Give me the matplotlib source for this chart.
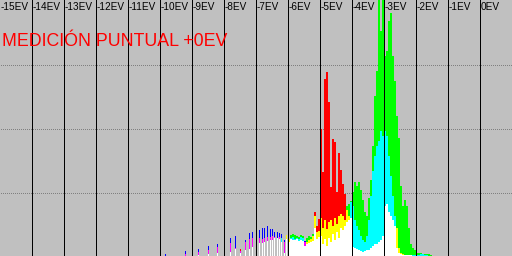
import matplotlib
matplotlib.use("Agg")
import matplotlib.pyplot as plt
import numpy as np

# ---- data (heights in histogram counts, 0..256 = full scale) ----
ev_labels = ["-15EV", "-14EV", "-13EV", "-12EV", "-11EV", "-10EV", "-9EV", "-8EV",
             "-7EV", "-6EV", "-5EV", "-4EV", "-3EV", "-2EV", "-1EV", "0EV"]
ev_stops = np.arange(-15, 1)

# sparse single spikes in the shadows (EV position, R, G, B)
spike_ev = [-9.844, -9.219, -8.813, -8.5, -8.219, -7.813, -7.656, -7.5, -7.344,
            -7.219, -7.125, -6.906, -6.813, -6.75, -6.656, -6.563, -6.5, -6.438,
            -6.344, -6.281, -6.219, -6.125, -6.063]
spike_r = [0, 2, 4, 6, 9, 13, 8, 7, 14, 17, 18, 18, 17, 18, 19, 19, 20, 19, 18, 19, 14, 14, 21]
spike_g = [0, 0, 1, 2, 3, 4, 7, 3, 6, 7, 9, 13, 13, 14, 15, 16, 16, 18, 18, 17, 18, 3, 21]
spike_b = [2, 5, 7, 10, 12, 18, 20, 5, 16, 23, 24, 26, 28, 28, 30, 27, 27, 24, 24, 23, 22, 16, 17]

# dense part, 1/16 EV bins starting at -6EV
dense_start = -6.0
dense_r = [17, 17, 16, 16, 17, 15, 16, 15, 14, 14, 16, 17, 20, 44, 30, 37,
           127, 84, 177, 184, 154, 69, 117, 114, 64, 103, 86, 72, 62, 46, 40, 38,
           9, 8, 7, 6, 5, 4, 5, 6, 6, 8, 10, 12, 12, 14, 16, 20,
           50, 52, 44, 40, 36, 30, 28, 8, 3, 2, 1, 1, 1, 1, 0, 0,
           0, 0, 0, 0, 0, 0, 0, 0]
dense_g = [17, 21, 22, 21, 20, 19, 21, 20, 10, 18, 20, 19, 22, 40, 24, 25,
           38, 28, 36, 27, 34, 36, 30, 38, 32, 40, 42, 40, 36, 50, 52, 55,
           64, 74, 70, 74, 66, 56, 44, 40, 58, 76, 110, 160, 185, 256, 225, 256,
           200, 205, 235, 243, 200, 175, 140, 118, 70, 50, 56, 50, 28, 12, 8, 6,
           3, 3, 3, 2, 2, 2, 2, 1]
dense_b = [14, 18, 19, 17, 18, 17, 19, 18, 15, 12, 13, 14, 15, 28, 17, 19,
           20, 12, 17, 10, 18, 14, 22, 16, 24, 18, 28, 26, 30, 34, 36, 54,
           50, 36, 30, 26, 20, 16, 14, 20, 36, 60, 85, 100, 110, 115, 125, 120,
           125, 120, 100, 80, 60, 40, 8, 3, 2, 1, 1, 1, 1, 1, 1, 1,
           1, 1, 2, 2, 1, 1, 0, 0]

title = "MEDICIÓN PUNTUAL +0EV"

# additive colour mixing of the three channels
single = {0: "#ff0000", 1: "#00ff00", 2: "#0000ff"}
pair = {(0, 1): "#ffff00", (1, 2): "#00ffff", (0, 2): "#ff00ff"}


def split_bins(xs, rs, gs, bs):
    segs = {}
    for x, r, g, b in zip(xs, rs, gs, bs):
        vals = [r, g, b]
        order = np.argsort(vals, kind="stable")
        lo, mid, hi = [vals[i] for i in order]
        parts = [(0, lo, "#ffffff"),
                 (lo, mid, pair[tuple(sorted(order[1:]))]),
                 (mid, hi, single[order[2]])]
        for bot, top, col in parts:
            if top > bot:
                segs.setdefault(col, [[], [], []])
                segs[col][0].append(x)
                segs[col][1].append(top - bot)
                segs[col][2].append(bot)
    return segs


fig = plt.figure(figsize=(5.12, 2.56), dpi=100)
ax = fig.add_axes([0, 0, 1, 1])
ax.set_facecolor("#c0c0c0")
ax.set_xlim(-15, 1)
ax.set_ylim(0, 256)
ax.axis("off")
fig.patch.set_facecolor("#c0c0c0")

px = 1 / 32.0  # one pixel in EV units

# dotted grid: one grey pixel every other pixel
dots_x = -15 + (np.arange(0, 512, 2) + 0.5) * px
for y in (64, 128, 192):
    ax.plot(dots_x, np.full(dots_x.size, y - 0.5), ls="none", marker="s",
            markersize=0.72, markeredgewidth=0, color="#808080",
            antialiased=False, zorder=1)

dense_x = dense_start + np.arange(len(dense_r)) / 16.0
for col, (xs, hs, bots) in split_bins(dense_x, dense_r, dense_g, dense_b).items():
    ax.bar(xs, hs, bottom=bots, width=1 / 16.0, align="edge", color=col,
           linewidth=0, antialiased=False, zorder=2)
for col, (xs, hs, bots) in split_bins(spike_ev, spike_r, spike_g, spike_b).items():
    ax.bar(xs, hs, bottom=bots, width=px, align="edge", color=col,
           linewidth=0, antialiased=False, zorder=2)

for s in ev_stops[1:]:
    ax.axvline(s, color="black", lw=0.72, antialiased=False, zorder=3)

for s, lab in zip(ev_stops, ev_labels):
    ax.text(s + px, 253.5, lab, fontsize=7.2, family="Liberation Sans",
            ha="left", va="top", color="black", zorder=4)

ax.text(-15 + 2 * px, 214, title, fontsize=12.8, family="Liberation Sans",
        color="#ff0000", ha="left", va="center", zorder=4)

fig.savefig("out.png", dpi=100, facecolor=fig.get_facecolor())
